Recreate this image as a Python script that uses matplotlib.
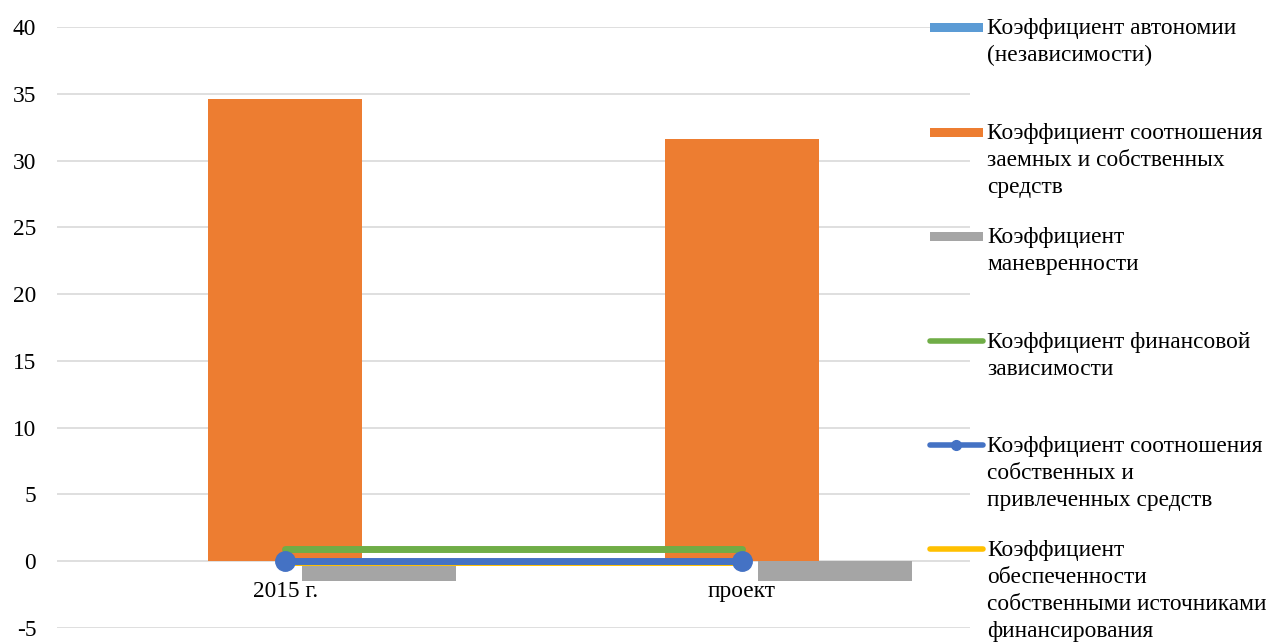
import matplotlib.pyplot as plt
from matplotlib.lines import Line2D
from matplotlib.patches import Rectangle

plt.rcParams['font.family'] = ['Liberation Serif', 'DejaVu Serif']
plt.rcParams['axes.unicode_minus'] = False

categories = ["2015 г.", "проект"]
autonomy = [0.03, 0.03]
borrowed_own = [34.6, 31.6]
maneuver = [-1.5, -1.5]
fin_dependence = [0.93, 0.93]
own_attracted = [0.02, 0.02]
provision = [-0.08, -0.08]

labels = [
    "Коэффициент автономии\n(независимости)",
    "Коэффициент соотношения\nзаемных и собственных\nсредств",
    "Коэффициент\nманевренности",
    "Коэффициент финансовой\nзависимости",
    "Коэффициент соотношения\nсобственных и\nпривлеченных средств",
    "Коэффициент\nобеспеченности\nсобственными источниками\nфинансирования",
]
colors = ["#5b9bd5", "#ed7d31", "#a5a5a5", "#70ad47", "#4472c4", "#ffc000"]
FS = 16.8

W, H = 1275, 644
fig = plt.figure(figsize=(W / 100, H / 100), dpi=100)
ax = fig.add_axes([57 / W, 1 - 628 / H, (970 - 57) / W, (628 - 27) / H])

x = range(len(categories))
bw = 0.338
step = 0.205
ax.bar([i - step for i in x], autonomy, bw, color=colors[0], zorder=2)
ax.bar([i for i in x], borrowed_own, bw, color=colors[1], zorder=2)
ax.bar([i + step for i in x], maneuver, bw, color=colors[2], zorder=2)

ax.plot(x, provision, color=colors[5], lw=5, solid_capstyle='round', zorder=3)
ax.plot(x, fin_dependence, color=colors[3], lw=5, solid_capstyle='round', zorder=3)
ax.plot(x, own_attracted, color=colors[4], lw=5, marker='o', ms=14,
        solid_capstyle='round', zorder=4)

ax.set_xlim(-0.5, 1.5)
ax.set_ylim(-5, 40)
ax.set_yticks(range(-5, 41, 5))
ax.yaxis.grid(True, color='#d9d9d9', lw=1.2, zorder=0)
ax.set_axisbelow(True)
ax.set_xticks([])
for s in ax.spines.values():
    s.set_visible(False)
ax.tick_params(axis='y', length=0, pad=15, labelsize=FS)

for i, c in enumerate(categories):
    ax.annotate(c, (i, 0), xytext=(0, -14.4), textcoords='offset points',
                ha='center', va='top', fontsize=FS, zorder=5)

# legend, placed by hand like Excel does
rows = [27, 132, 236, 341, 445, 549]
for k, (lab, col, yp) in enumerate(zip(labels, colors, rows)):
    yf = 1 - yp / H
    if k < 3:
        fig.add_artist(Rectangle((930 / W, yf - 4.5 / H), 53 / W, 9 / H,
                                 transform=fig.transFigure, color=col, lw=0))
    else:
        fig.add_artist(Line2D([930 / W, 983 / W], [yf, yf], transform=fig.transFigure,
                              color=col, lw=4, solid_capstyle='round'))
        if k == 4:
            fig.add_artist(Line2D([956 / W], [yf], transform=fig.transFigure,
                                  color=col, marker='o', ms=7))
    fig.text(987 / W, yf + 9 / H, lab, ha='left', va='top', fontsize=FS,
             linespacing=1.38)

fig.savefig("out.png", dpi=100)
